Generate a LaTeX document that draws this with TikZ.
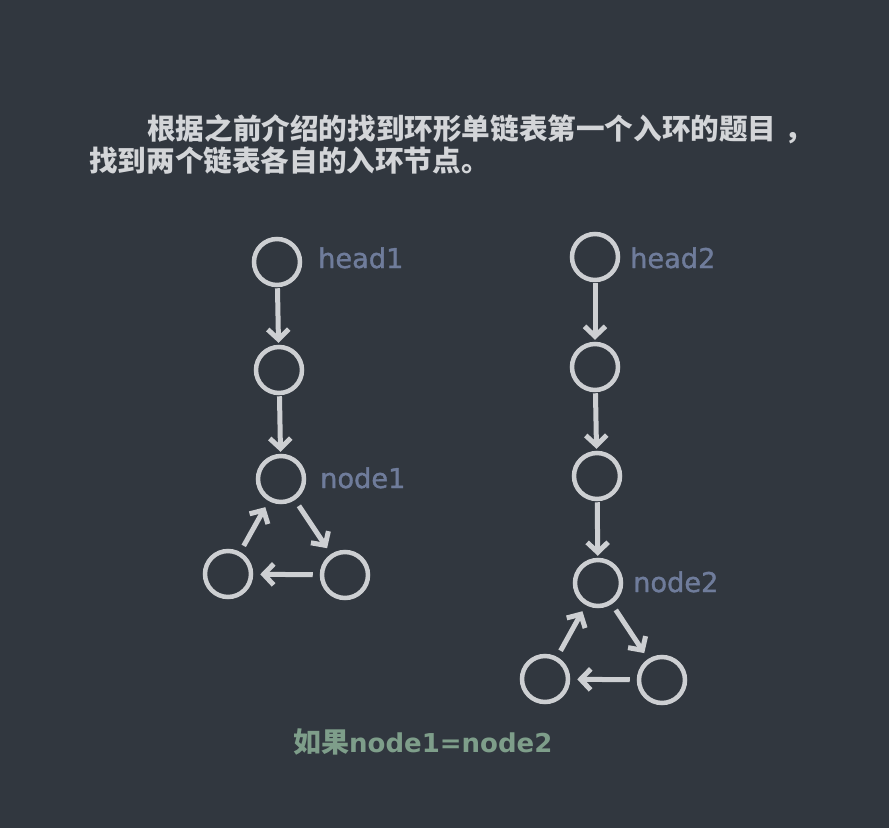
\documentclass[tikz,border=0pt]{standalone}
\usepackage{fontspec}
\usetikzlibrary{arrows.meta}
\newfontfamily\cjk{Noto Sans CJK SC}
\newfontfamily\dejavu{DejaVu Sans}
\newfontfamily\labfont[FakeBold=1.3]{DejaVu Sans}
\definecolor{bg}{HTML}{31373F}
\definecolor{fg}{HTML}{CDCFD2}
\definecolor{titlec}{HTML}{D3D5D8}
\definecolor{labc}{HTML}{6F7C9B}
\definecolor{grn}{HTML}{7E9E8A}
\tikzset{
  nd/.style={circle, draw=fg, line width=4.5pt, minimum size=46pt, inner sep=0pt},
  lab/.style={anchor=base west, inner sep=0pt, text=labc, font=\labfont\fontsize{27.2}{30}\selectfont},
  arr/.style={draw=fg, line width=5pt, -{Straight Barb[length=10pt,width=21pt]}},
  varr/.style={arr, shorten <=1pt, shorten >=2pt},
  tarr/.style={arr, shorten <=7pt, shorten >=7pt},
  ttl/.style={anchor=base west, inner sep=0pt, text=titlec, font=\cjk\bfseries\fontsize{28.6}{32}\selectfont}
}
\begin{document}
\begin{tikzpicture}[x=1pt,y=-1pt]
\fill[bg] (0,0) rectangle (889,828);
\useasboundingbox (0,0) rectangle (889,828);
% title
\node[ttl] (t1) at (147,139) {根据之前介绍的找到环形单链表第一个入环的题目\hspace{0.3em}，};
\node[ttl] (t2) at (89,171) {找到两个链表各自的入环节点。};
% left list
\node[nd] (a1) at (277,262) {};
\node[nd] (a2) at (279,370) {};
\node[nd] (a3) at (281,479) {};
\node[nd] (a4) at (345,575) {};
\node[nd] (a5) at (228,574) {};
\node[lab] (la1) at (318,268) {head1};
\node[lab] (la3) at (320,488) {node1};
\draw[varr] (a1) -- (a2);
\draw[varr] (a2) -- (a3);
\draw[tarr] (a3) -- (a4);
\draw[tarr] (a4) -- (a5);
\draw[tarr] (a5) -- (a3);
% right list
\node[nd] (b1) at (595,257) {};
\node[nd] (b2) at (595,367) {};
\node[nd] (b3) at (597,476) {};
\node[nd] (b4) at (598,583) {};
\node[nd] (b5) at (662,680) {};
\node[nd] (b6) at (545,679) {};
\node[lab] (lb1) at (630,268) {head2};
\node[lab] (lb4) at (633,592) {node2};
\draw[varr] (b1) -- (b2);
\draw[varr] (b2) -- (b3);
\draw[varr] (b3) -- (b4);
\draw[tarr] (b4) -- (b5);
\draw[tarr] (b5) -- (b6);
\draw[tarr] (b6) -- (b4);
% bottom
\node[anchor=base west, inner sep=0pt, text=grn] (cond) at (293,752)
  {{\cjk\bfseries\fontsize{28}{32}\selectfont 如果}{\dejavu\bfseries\fontsize{26}{30}\selectfont node1=node2}};
\end{tikzpicture}
\end{document}
